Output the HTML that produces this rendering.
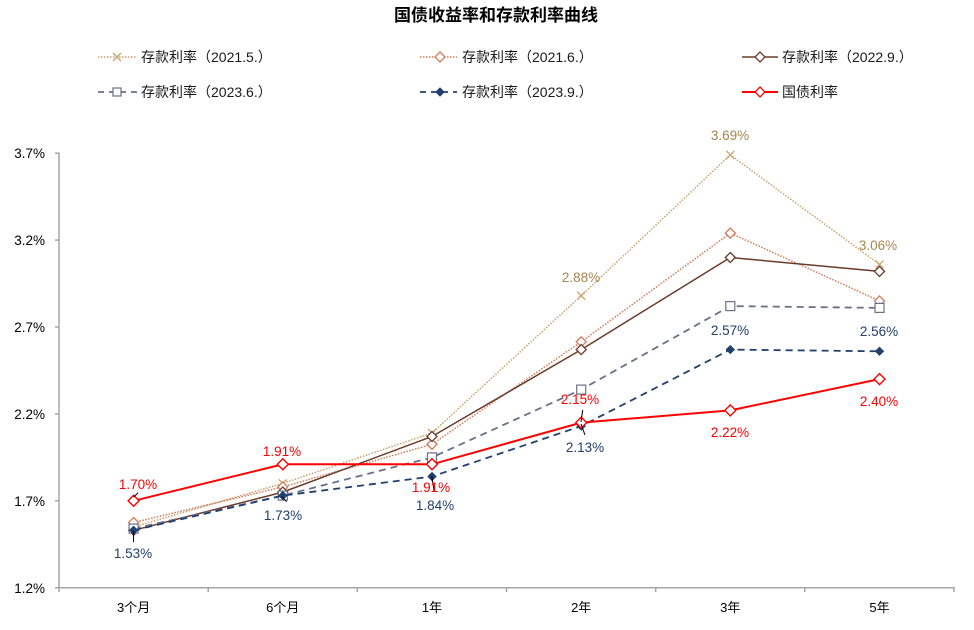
<!DOCTYPE html>
<html><head><meta charset="utf-8"><style>
html,body{margin:0;padding:0;background:#fff;}
svg{display:block;}
text{font-family:"Liberation Sans","Noto Sans CJK SC",sans-serif;}
</style></head><body>
<svg width="974" height="630" viewBox="0 0 974 630" xmlns="http://www.w3.org/2000/svg">
<rect width="974" height="630" fill="#fff"/>
<text x="496" y="21" text-anchor="middle" font-size="17" font-weight="bold" fill="#000">国债收益率和存款利率曲线</text>

<!-- Legend row 1 -->
<line x1="98" y1="57" x2="137" y2="57" stroke="#c9a26b" stroke-width="1.5" stroke-dasharray="1.5,1.5"/>
<path d="M113,53 L121,61 M121,53 L113,61" stroke="#c9a26b" stroke-width="1.3"/>
<text x="141" y="62" font-size="14" fill="#1a1a1a">存款利率（2021.5.）</text>
<line x1="420" y1="57" x2="457" y2="57" stroke="#d07a5a" stroke-width="1.5" stroke-dasharray="1.5,1.5"/>
<path d="M440,52 L445,57 L440,62 L435,57 Z" fill="#fff" stroke="#d07a5a" stroke-width="1.3"/>
<text x="462" y="62" font-size="14" fill="#1a1a1a">存款利率（2021.6.）</text>
<line x1="742" y1="57" x2="778" y2="57" stroke="#6b3a2a" stroke-width="1.5"/>
<path d="M760,52 L765,57 L760,62 L755,57 Z" fill="#fff" stroke="#6b3a2a" stroke-width="1.3"/>
<text x="782" y="62" font-size="14" fill="#1a1a1a">存款利率（2022.9.）</text>
<!-- Legend row 2 -->
<line x1="98" y1="92" x2="137" y2="92" stroke="#6b7089" stroke-width="1.8" stroke-dasharray="6,5"/>
<rect x="113" y="88" width="8" height="8" fill="#fff" stroke="#6b7089" stroke-width="1.2"/>
<text x="141" y="97" font-size="14" fill="#1a1a1a">存款利率（2023.6.）</text>
<line x1="420" y1="92" x2="457" y2="92" stroke="#22406e" stroke-width="1.8" stroke-dasharray="6,5"/>
<path d="M440,88 L444,92 L440,96 L436,92 Z" fill="#22406e" stroke="#22406e" stroke-width="1"/>
<text x="462" y="97" font-size="14" fill="#1a1a1a">存款利率（2023.9.）</text>
<line x1="742" y1="92" x2="778" y2="92" stroke="#ff0000" stroke-width="2"/>
<path d="M760,87 L765,92 L760,97 L755,92 Z" fill="#fff" stroke="#ff0000" stroke-width="1.3"/>
<text x="782" y="97" font-size="14" fill="#1a1a1a">国债利率</text>

<!-- Axes -->
<g stroke="#a6a6a6" stroke-width="1.5" fill="none">
<line x1="59" y1="152.5" x2="59" y2="588"/>
<line x1="59" y1="587.7" x2="954" y2="587.7"/>
<line x1="55" y1="153.2" x2="59" y2="153.2"/>
<line x1="55" y1="240.1" x2="59" y2="240.1"/>
<line x1="55" y1="327" x2="59" y2="327"/>
<line x1="55" y1="413.9" x2="59" y2="413.9"/>
<line x1="55" y1="500.8" x2="59" y2="500.8"/>
<line x1="55" y1="587.7" x2="59" y2="587.7"/>
<line x1="59" y1="587" x2="59" y2="592"/>
<line x1="208.2" y1="587" x2="208.2" y2="592"/>
<line x1="357.3" y1="587" x2="357.3" y2="592"/>
<line x1="506.5" y1="587" x2="506.5" y2="592"/>
<line x1="655.7" y1="587" x2="655.7" y2="592"/>
<line x1="804.8" y1="587" x2="804.8" y2="592"/>
<line x1="954" y1="587" x2="954" y2="592"/>
</g>
<g font-size="13.5" fill="#000" text-anchor="end">
<text x="45" y="158">3.7%</text>
<text x="45" y="245">3.2%</text>
<text x="45" y="332">2.7%</text>
<text x="45" y="419">2.2%</text>
<text x="45" y="506">1.7%</text>
<text x="45" y="593">1.2%</text>
</g>
<g font-size="13" fill="#000" text-anchor="middle">
<text x="133.6" y="612">3个月</text>
<text x="282.8" y="612">6个月</text>
<text x="432" y="612">1年</text>
<text x="581.2" y="612">2年</text>
<text x="730.3" y="612">3年</text>
<text x="879.5" y="612">5年</text>
</g>

<!-- Series 2021.5 -->
<polyline points="133.6,526.9 282.8,483.4 432,433 581.2,295.7 730.3,154.9 879.5,264.4" fill="none" stroke="#c9a26b" stroke-width="1.5" stroke-dasharray="1.5,1.5"/>
<g stroke="#c9a26b" stroke-width="1.3">
<path d="M129.6,522.9 l8,8 m0,-8 l-8,8"/>
<path d="M278.8,479.4 l8,8 m0,-8 l-8,8"/>
<path d="M428,429 l8,8 m0,-8 l-8,8"/>
<path d="M577.2,291.7 l8,8 m0,-8 l-8,8"/>
<path d="M726.3,150.9 l8,8 m0,-8 l-8,8"/>
<path d="M875.5,260.4 l8,8 m0,-8 l-8,8"/>
</g>
<!-- Series 2021.6 -->
<polyline points="133.6,522.5 282.8,486.9 432,444.3 581.2,341.8 730.3,233.1 879.5,300.9" fill="none" stroke="#d07a5a" stroke-width="1.5" stroke-dasharray="1.5,1.5"/>
<g fill="#fff" stroke="#d07a5a" stroke-width="1.3">
<path d="M133.6,517.5 l5,5 l-5,5 l-5,-5 Z"/>
<path d="M282.8,481.9 l5,5 l-5,5 l-5,-5 Z"/>
<path d="M432,439.3 l5,5 l-5,5 l-5,-5 Z"/>
<path d="M581.2,336.8 l5,5 l-5,5 l-5,-5 Z"/>
<path d="M730.3,228.1 l5,5 l-5,5 l-5,-5 Z"/>
<path d="M879.5,295.9 l5,5 l-5,5 l-5,-5 Z"/>
</g>
<!-- Series 2022.9 -->
<polyline points="133.6,530.3 282.8,492.1 432,436.5 581.2,349.6 730.3,257.5 879.5,271.4" fill="none" stroke="#6b3a2a" stroke-width="1.5"/>
<g fill="#fff" stroke="#6b3a2a" stroke-width="1.3">
<path d="M133.6,525.3 l5,5 l-5,5 l-5,-5 Z"/>
<path d="M282.8,487.1 l5,5 l-5,5 l-5,-5 Z"/>
<path d="M432,431.5 l5,5 l-5,5 l-5,-5 Z"/>
<path d="M581.2,344.6 l5,5 l-5,5 l-5,-5 Z"/>
<path d="M730.3,252.5 l5,5 l-5,5 l-5,-5 Z"/>
<path d="M879.5,266.4 l5,5 l-5,5 l-5,-5 Z"/>
</g>
<!-- Series 2023.6 -->
<polyline points="133.6,528.6 282.8,495.6 432,457.4 581.2,389.6 730.3,306.1 879.5,307.9" fill="none" stroke="#6b7089" stroke-width="1.8" stroke-dasharray="7,5"/>
<g fill="#fff" stroke="#6b7089" stroke-width="1.2">
<rect x="129.1" y="524.1" width="9" height="9"/>
<rect x="278.3" y="491.1" width="9" height="9"/>
<rect x="427.5" y="452.9" width="9" height="9"/>
<rect x="576.7" y="385.1" width="9" height="9"/>
<rect x="725.8" y="301.6" width="9" height="9"/>
<rect x="875" y="303.4" width="9" height="9"/>
</g>
<!-- Series 2023.9 -->
<polyline points="133.6,530.3 282.8,495.6 432,476.5 581.2,426.1 730.3,349.6 879.5,351.3" fill="none" stroke="#22406e" stroke-width="1.8" stroke-dasharray="7,5"/>
<g fill="#22406e" stroke="#22406e" stroke-width="1">
<path d="M133.6,526.3 l4,4 l-4,4 l-4,-4 Z"/>
<path d="M282.8,491.6 l4,4 l-4,4 l-4,-4 Z"/>
<path d="M432,472.5 l4,4 l-4,4 l-4,-4 Z"/>
<path d="M581.2,422.1 l4,4 l-4,4 l-4,-4 Z"/>
<path d="M730.3,345.6 l4,4 l-4,4 l-4,-4 Z"/>
<path d="M879.5,347.3 l4,4 l-4,4 l-4,-4 Z"/>
</g>
<!-- Red -->
<polyline points="133.6,500.8 282.8,464.3 432,464.3 581.2,422.6 730.3,410.4 879.5,379.1" fill="none" stroke="#ff0000" stroke-width="2"/>
<g fill="#fff" stroke="#ff0000" stroke-width="1.4">
<path d="M133.6,495.3 l5.5,5.5 l-5.5,5.5 l-5.5,-5.5 Z"/>
<path d="M282.8,458.8 l5.5,5.5 l-5.5,5.5 l-5.5,-5.5 Z"/>
<path d="M432,458.8 l5.5,5.5 l-5.5,5.5 l-5.5,-5.5 Z"/>
<path d="M581.2,417.1 l5.5,5.5 l-5.5,5.5 l-5.5,-5.5 Z"/>
<path d="M730.3,404.9 l5.5,5.5 l-5.5,5.5 l-5.5,-5.5 Z"/>
<path d="M879.5,373.6 l5.5,5.5 l-5.5,5.5 l-5.5,-5.5 Z"/>
</g>

<!-- Leader lines -->
<g stroke="#000" stroke-width="1">
<line x1="133.5" y1="531" x2="133.5" y2="542"/>
<line x1="133.5" y1="497" x2="138" y2="493"/>
<line x1="281.7" y1="496.7" x2="286.7" y2="501.7"/>
<line x1="431.7" y1="476" x2="434.3" y2="492"/>
<line x1="582.7" y1="410" x2="581" y2="422"/>
<line x1="581" y1="424" x2="585" y2="435"/>
</g>

<!-- Data labels -->
<g font-size="13.5" text-anchor="middle" fill="#a8844f">
<text x="581" y="282">2.88%</text>
<text x="730" y="140">3.69%</text>
<text x="878" y="250">3.06%</text>
</g>
<g font-size="13.5" text-anchor="middle" fill="#22406e">
<text x="133" y="558">1.53%</text>
<text x="283" y="520">1.73%</text>
<text x="435" y="510">1.84%</text>
<text x="585" y="452">2.13%</text>
<text x="730" y="335">2.57%</text>
<text x="879" y="336">2.56%</text>
</g>
<g font-size="13.5" text-anchor="middle" fill="#ff0000">
<text x="138" y="489">1.70%</text>
<text x="282" y="456">1.91%</text>
<text x="431" y="492">1.91%</text>
<text x="580" y="404">2.15%</text>
<text x="730" y="437">2.22%</text>
<text x="879" y="406">2.40%</text>
</g>
</svg>
</body></html>
